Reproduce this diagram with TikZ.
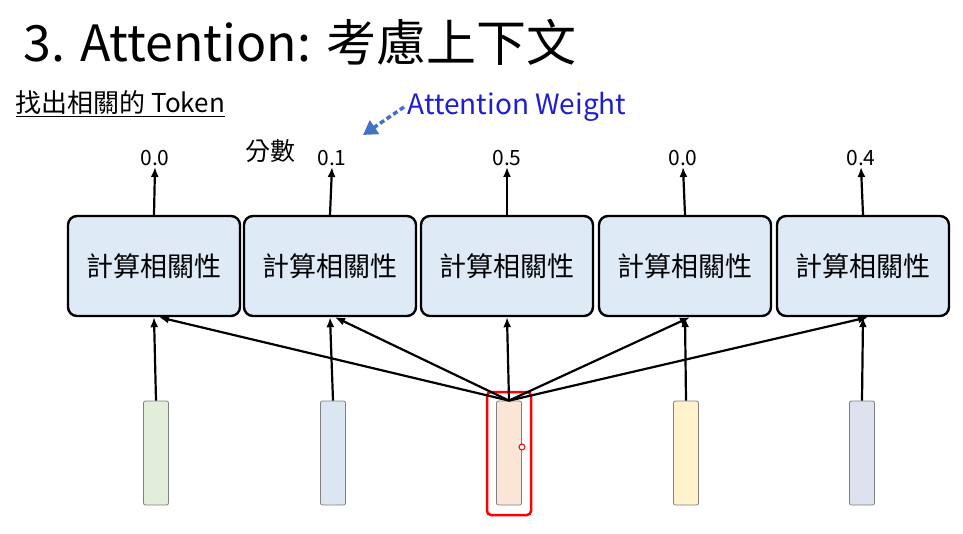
\documentclass[tikz,border=0pt]{standalone}
\usepackage{fontspec}
\setmainfont{Noto Sans CJK TC}
\usetikzlibrary{arrows.meta}
\definecolor{boxblue}{HTML}{DEEAF6}
\definecolor{tokgreen}{HTML}{E3EEDA}
\definecolor{tokblue}{HTML}{DCE6F2}
\definecolor{tokpeach}{HTML}{FBE5D6}
\definecolor{tokyellow}{HTML}{FFF2CC}
\definecolor{toklav}{HTML}{DDE2EE}
\definecolor{weightblue}{HTML}{1F1FD0}
\definecolor{dashblue}{HTML}{4472C4}
\tikzstyle{relbox}=[rectangle,rounded corners=9pt,fill=boxblue,draw=black,line width=2.4pt,minimum width=172pt,minimum height=100pt,inner sep=0pt,font=\fontsize{27}{30}\selectfont]
\tikzstyle{token}=[rectangle,rounded corners=2pt,draw=gray,line width=0.8pt,minimum width=25pt,minimum height=104pt,inner sep=0pt]
\tikzstyle{score}=[inner sep=1pt,font=\fontsize{21}{24}\selectfont]
\tikzstyle{link}=[-{Latex[length=10pt,width=8pt]},draw=black,line width=2.2pt]

\begin{document}
\begin{tikzpicture}[x=1pt,y=-1pt]
	\useasboundingbox (0,0) rectangle (963,534);
	\fill[white] (0,0) rectangle (963,534);
	% title and notes
	\node [anchor=west,font=\fontsize{50}{54}\selectfont] (title) at (20,42) {3. Attention: 考慮上下文};
	\node [anchor=west,font=\fontsize{26}{30}\selectfont] (find) at (12,104) {\underline{找出相關的 Token}};
	\node [font=\fontsize{25}{28}\selectfont] (fen) at (270,151) {分數};
	\node [anchor=west,text=weightblue,font=\fontsize{28}{32}\selectfont] (weight) at (404,107) {Attention Weight};
	\coordinate (wtip) at (363,135);
	\draw [dashblue,line width=3.5pt,dash pattern=on 5pt off 3pt,-{Triangle[length=14pt,width=16pt]}] (weight.west) to (wtip);
	% boxes
	\foreach \i/\x in {1/154,2/330,3/507,4/685,5/863}
		\node [style=relbox] (b\i) at (\x,266) {計算相關性};
	% tokens
	\node [style=token,fill=tokgreen] (t1) at (156,453) {};
	\node [style=token,fill=tokblue] (t2) at (333,453) {};
	\node [style=token,fill=tokpeach] (t3) at (509,453) {};
	\node [style=token,fill=tokyellow] (t4) at (686,453) {};
	\node [style=token,fill=toklav] (t5) at (862,453) {};
	\draw [red,line width=2.5pt,rounded corners=4pt] (487,392) rectangle (531,515);
	\draw [red,line width=1pt,fill=white] (522,447) circle (3pt);
	% scores
	\foreach \i/\x/\v in {1/155/0.0,2/332/0.1,3/507/0.5,4/683/0.0,5/861/0.4}
		\node [style=score] (s\i) at (\x,158) {\v};
	\foreach \i in {1,...,5}
		\draw [style=link] (b\i.north) to (s\i.south);
	% connections
	\foreach \i in {1,2,4,5}
		\draw [style=link] (t\i.north) to (b\i.south);
	\draw [style=link] (t3.north) to (b3.south);
	\foreach \i in {1,2,4,5}
		\draw [style=link] (t3.north) to ([xshift=5pt]b\i.south);
\end{tikzpicture}
\end{document}
